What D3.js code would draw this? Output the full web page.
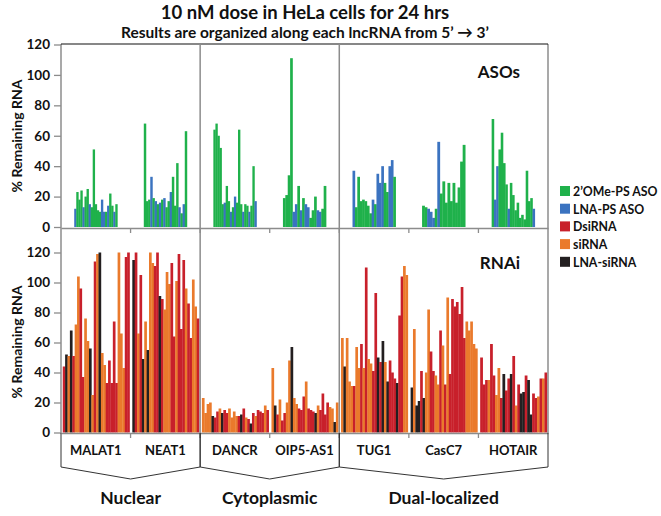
<!DOCTYPE html>
<html><head><meta charset="utf-8">
<script src="https://cdn.jsdelivr.net/npm/d3@7"></script>
<style>body{margin:0;background:#fff}svg{display:block;font-family:Lato,"Open Sans",sans-serif;font-weight:bold}</style>
</head><body><svg id="c" width="661" height="516"></svg>
<script>
// ---------------- data ----------------
const lncRNAs = ["MALAT1","NEAT1","DANCR","OIP5-AS1","TUG1","CasC7","HOTAIR"];
const localizations = ["Nuclear","Cytoplasmic","Dual-localized"];
const localizationSpans = [[0,2],[2,4],[4,7]];
const yTicks = [0,20,40,60,80,100,120];
const legendLabels = ["2’OMe-PS ASO","LNA-PS ASO","DsiRNA","siRNA","LNA-siRNA"];
const typeCodes = ["G","B","R","O","K"];
const typeColors = ["#1fb14b","#3b73c0","#c8202b","#ea7a2c","#231f20"];

// ASO panel (% remaining RNA), types: G = 2'OMe-PS ASO, B = LNA-PS ASO
const asoMALAT1 = [12,23,18,24,13,20,25,15,13,51,15,11,10,18,10,10,14,22,14,10,15];
const asoMALAT1Type = "BGGGBGGBGGGGGBBGBGGBG";
const asoNEAT1 = [68,17,18,33,19,17,15,16,18,19,13,17,23,33,14,42,13,9,15,63];
const asoNEAT1Type = "GGGBGBGBGBGGBGGGBGBG";
const asoDANCR = [64,68,60,52,15,16,27,17,10,13,20,16,64,15,10,15,14,10,14,40,17];
const asoDANCRType = "GGGGGBGGBGBGGGBGGBGGB";
const asoOIP5 = [19,21,34,111,10,15,27,11,19,15,13,6,11,20,11,10,12,27];
const asoOIP5Type = "GGGGBBGBGBBGGGBBGG";
const asoTUG1 = [37,13,33,17,18,17,14,9,18,15,35,29,40,29,23,40,44,33];
const asoTUG1Type = "BGGGGGGGBGBBBGGBBG";
const asoCasC7 = [14,13,12,10,6,12,56,22,30,16,29,17,29,16,26,43,54];
const asoCasC7Type = "GGBBBGBGGGGGGGGGG";
const asoHOTAIR = [71,18,40,51,62,42,28,12,29,21,11,16,6,8,5,37,17,19,12];
const asoHOTAIRType = "GBBGGGGBGGGGGGGGGGB";

// RNAi panel, types: R = DsiRNA, O = siRNA, K = LNA-siRNA
const rnaiMALAT1 = [44,52,51,68,51,72,104,96,37,76,61,56,25,114,119,120,53,45,33,48,33,74,33,120,66,43,117,120];
const rnaiMALAT1Type = "RKOKROORROOKOROKOORRRRROOORR";
const rnaiNEAT1 = [115,120,66,105,49,74,55,120,113,111,120,91,89,82,107,99,113,64,101,119,69,115,96,86,63,102,84,76];
const rnaiNEAT1Type = "KRORKOKOORRKROOORRORRRORROORR";
const rnaiDANCR = [23,13,19,20,11,10,14,16,13,15,13,16,10,14,11,11,12,16,10,9,6,13,11,15,14,13,18,15];
const rnaiDANCRType = "OOOOKRROKRROOOORKRORKRORRROR";
const rnaiOIP5 = [43,18,12,22,8,13,20,48,57,23,19,16,15,24,34,16,15,14,13,18,15,26,12,20,17,16,7,20];
const rnaiOIP5Type = "OKRORROOKOORRRORRRKORRRROOKO";
const rnaiTUG1 = [63,44,63,34,31,31,57,43,59,43,110,49,46,41,93,50,47,61,47,34,48,40,36,33,78,104,111,105];
const rnaiTUG1Type = "OKOOOROOROROORRKRKOKRRRKRROO";
const rnaiCasC7 = [30,69,18,21,41,23,40,82,54,41,38,32,68,58,32,90,39,89,84,87,79,97,63,74,68,74,59,56];
const rnaiCasC7Type = "KOKKRKOORROORORORRRRRRROOOOO";
const rnaiHOTAIR = [50,32,35,35,59,38,25,43,23,39,28,36,39,51,18,32,26,27,38,35,12,26,23,24,36,36,40];
const rnaiHOTAIRType = "RRRORROORKRRKRORKKRKKRRORORR";

const asoData = [[asoMALAT1,asoMALAT1Type],[asoNEAT1,asoNEAT1Type],[asoDANCR,asoDANCRType],[asoOIP5,asoOIP5Type],[asoTUG1,asoTUG1Type],[asoCasC7,asoCasC7Type],[asoHOTAIR,asoHOTAIRType]];
const rnaiData = [[rnaiMALAT1,rnaiMALAT1Type],[rnaiNEAT1,rnaiNEAT1Type],[rnaiDANCR,rnaiDANCRType],[rnaiOIP5,rnaiOIP5Type],[rnaiTUG1,rnaiTUG1Type],[rnaiCasC7,rnaiCasC7Type],[rnaiHOTAIR,rnaiHOTAIRType]];

// ---------------- layout ----------------
const svg = d3.select("#c");
const L = 61, R = 548;
const x = d3.scaleBand().domain(lncRNAs).range([L, R]).padding(0);
const yTop = d3.scaleLinear().domain([0,120]).range([227, 44.5]);
const yBot = d3.scaleLinear().domain([0,120]).range([432.5, 252.5]);
const color = d3.scaleOrdinal().domain(typeCodes).range(typeColors);
const bw = x.bandwidth();

function drawPanel(data, y, inner0, inner1) {
  const g = svg.append("g");
  data.forEach(([vals, types], gi) => {
    const name = lncRNAs[gi];
    const inner = d3.scaleBand().domain(d3.range(vals.length))
      .range([x(name) + bw*inner0, x(name) + bw*inner1]).padding(0);
    g.selectAll(null).data(vals).enter().append("rect")
      .attr("x", (d,i) => inner(i))
      .attr("width", inner.bandwidth() + 0.3)
      .attr("y", d => y(Math.min(d,120)))
      .attr("height", d => y(0) - y(Math.min(d,120)))
      .attr("fill", (d,i) => color(types[i]));
  });
}
drawPanel(asoData, yTop, 0.19, 0.81);
drawPanel(rnaiData, yBot, 0.025, 0.985);

// axes
const axisCol = "#8c8c8c";
function yAxis(y) {
  const a = svg.append("g").attr("transform", `translate(${L},0)`)
    .call(d3.axisLeft(y).tickValues(yTicks).tickSize(7).tickPadding(4));
  a.select(".domain").remove();
  a.selectAll("line").attr("stroke", axisCol).attr("stroke-width", 1.3);
  a.selectAll("text").attr("font-size", 13.5).attr("font-weight", "bold").attr("fill", "#111")
    .attr("font-family", "Lato, sans-serif");
}
yAxis(yTop); yAxis(yBot);

// left axis line, right edge, dividers
svg.append("line").attr("x1", L).attr("x2", L).attr("y1", 44).attr("y2", 433)
  .attr("stroke", axisCol).attr("stroke-width", 1.5);
svg.append("line").attr("x1", R).attr("x2", R).attr("y1", 44).attr("y2", 433)
  .attr("stroke", axisCol).attr("stroke-width", 1.5);
svg.append("line").attr("x1", L).attr("x2", R).attr("y1", 44).attr("y2", 44)
  .attr("stroke", "#111").attr("stroke-width", 1.2);
[2,4].forEach(i => {
  svg.append("line").attr("x1", x(lncRNAs[i])).attr("x2", x(lncRNAs[i]))
    .attr("y1", 44).attr("y2", 433).attr("stroke", axisCol).attr("stroke-width", 1.5);
});

// x axes
function xAxis(y0) {
  const a = svg.append("g").attr("transform", `translate(0,${y0})`)
    .call(d3.axisBottom(x).tickValues([]).tickSizeOuter(0));
  a.select(".domain").attr("stroke", axisCol).attr("stroke-width", 1.5);
  lncRNAs.slice(1).forEach(n => {
    a.append("line").attr("x1", x(n)).attr("x2", x(n)).attr("y1", 0).attr("y2", 5)
      .attr("stroke", axisCol).attr("stroke-width", 1.3);
  });
}
xAxis(228); xAxis(433);

// category labels
svg.append("g").selectAll("text").data(lncRNAs).enter().append("text")
  .attr("x", d => x(d) + bw/2).attr("y", 455).attr("text-anchor", "middle")
  .attr("font-size", 13).attr("fill", "#111").text(d => d);

// brackets
const bracket = svg.append("g").attr("fill", "none").attr("stroke", "#333").attr("stroke-width", 1);
localizationSpans.forEach(([a,b], i) => {
  const x0 = x(lncRNAs[a]), x1 = (b < lncRNAs.length) ? x(lncRNAs[b]) : R;
  bracket.append("path").attr("d",
    `M${x0},433 L${x0},467 L${(x0+x1)/2},479 L${x1},467 L${x1},433`);
  svg.append("text").attr("x", (x0+x1)/2).attr("y", 504).attr("text-anchor", "middle")
    .attr("font-size", 17.5).attr("fill", "#111").text(localizations[i]);
});

// y titles
[[yTop,136],[yBot,342]].forEach(([y,c]) => {
  svg.append("text").attr("transform", `translate(22,${c}) rotate(-90)`)
    .attr("text-anchor", "middle").attr("font-size", 14).attr("fill", "#111").text("% Remaining RNA");
});

// panel labels
svg.append("text").attr("x", 520).attr("y", 78).attr("text-anchor", "end").attr("font-size", 17).attr("fill", "#111").text("ASOs");
svg.append("text").attr("x", 520).attr("y", 269).attr("text-anchor", "end").attr("font-size", 17).attr("fill", "#111").text("RNAi");

// titles
svg.append("text").attr("x", 305).attr("y", 19).attr("text-anchor", "middle").attr("font-size", 18.5).attr("fill", "#111")
  .text("10 nM dose in HeLa cells for 24 hrs");
svg.append("text").attr("x", 305).attr("y", 37.5).attr("text-anchor", "middle").attr("font-size", 15.5).attr("fill", "#111")
  .text("Results are organized along each lncRNA from 5’ → 3’");

// legend
const lg = svg.append("g").attr("transform", "translate(560,186)");
legendLabels.forEach((t, i) => {
  lg.append("rect").attr("x", 0).attr("y", i*17.7).attr("width", 10).attr("height", 10).attr("fill", typeColors[i]);
  lg.append("text").attr("x", 13).attr("y", i*17.7 + 10).attr("font-size", 12.3).attr("fill", "#111").text(t);
});
</script></body></html>
